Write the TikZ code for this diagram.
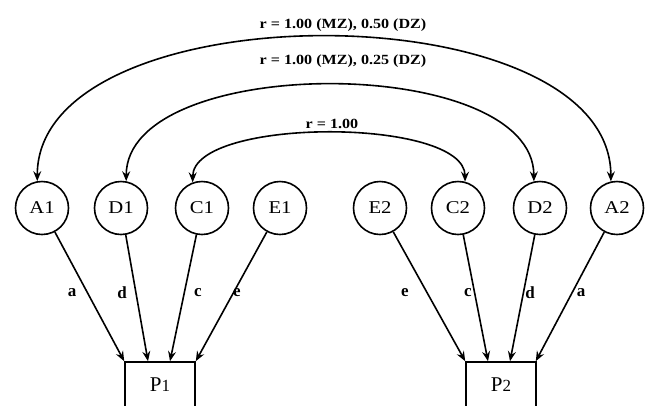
\documentclass[tikz,border=0pt]{standalone}
\usepackage{fontspec}
\usepackage{graphicx}
\setmainfont{Liberation Serif}
\usetikzlibrary{arrows.meta}
\newcommand{\wide}[1]{\scalebox{1.15}[1]{#1}}
\begin{document}
\begin{tikzpicture}[x=1pt,y=-1pt,line width=1.6pt,
  var/.style={circle,draw,minimum size=53pt,inner sep=0pt,font=\fontsize{18}{18}\selectfont},
  obs/.style={rectangle,draw,minimum width=70pt,minimum height=46pt,inner sep=0pt,font=\fontsize{21}{21}\selectfont},
  arr/.style={-{Stealth[length=10pt,width=8pt,inset=3.5pt]}},
  corr/.style={{Stealth[length=10pt,width=8pt,inset=3.5pt]}-{Stealth[length=10pt,width=8pt,inset=3.5pt]}},
  plbl/.style={inner sep=0pt,font=\bfseries\fontsize{17}{17}\selectfont},
  rlbl/.style={inner sep=0pt,font=\bfseries\fontsize{14}{14}\selectfont}]
\useasboundingbox (0,0) rectangle (647,405);
\clip (0,0) rectangle (647,405);
% latent variables
\node[var] (A1) at (42,208) {\wide{A1}};
\node[var] (D1) at (121,208) {\wide{D1}};
\node[var] (C1) at (202,208) {\wide{C1}};
\node[var] (E1) at (280,208) {\wide{E1}};
\node[var] (E2) at (380,208) {\wide{E2}};
\node[var] (C2) at (458,208) {\wide{C2}};
\node[var] (D2) at (540,208) {\wide{D2}};
\node[var] (A2) at (617,208) {\wide{A2}};
% observed
\node[obs] (P1) at (160,385) {P{\fontsize{17}{17}\selectfont 1}};
\node[obs] (P2) at (501,385) {P{\fontsize{17}{17}\selectfont 2}};
% paths to P1
\draw[arr] (A1) -- (P1.north west);
\draw[arr] (D1) -- ([xshift=-12pt]P1.north);
\draw[arr] (C1) -- ([xshift=10pt]P1.north);
\draw[arr] (E1) -- (P1.north east);
% paths to P2
\draw[arr] (E2) -- (P2.north west);
\draw[arr] (C2) -- ([xshift=-13pt]P2.north);
\draw[arr] (D2) -- ([xshift=9pt]P2.north);
\draw[arr] (A2) -- ([xshift=-1pt]P2.north east);
% path labels
\node[plbl] (la1) at (72,293) {a};
\node[plbl] (ld1) at (122,293) {d};
\node[plbl] (lc1) at (198,293) {c};
\node[plbl] (le1) at (237,293) {e};
\node[plbl] (le2) at (405,293) {e};
\node[plbl] (lc2) at (468,293) {c};
\node[plbl] (ld2) at (530,293) {d};
\node[plbl] (la2) at (581,293) {a};
% correlations
\draw[corr] (A1.100) .. controls (37,-11) and (611,-11) .. (A2.103);
\draw[corr] (D1.79) .. controls (126,53) and (534,53) .. (D2.103);
\draw[corr] (C1.110) .. controls (193,117) and (465,117) .. (C2.75);
\node[rlbl] (r1) at (343,25) {\wide{r = 1.00 (MZ), 0.50 (DZ)}};
\node[rlbl] (r2) at (343,61) {\wide{r = 1.00 (MZ), 0.25 (DZ)}};
\node[rlbl] (r3) at (332,124) {\wide{r = 1.00}};
\end{tikzpicture}
\end{document}
